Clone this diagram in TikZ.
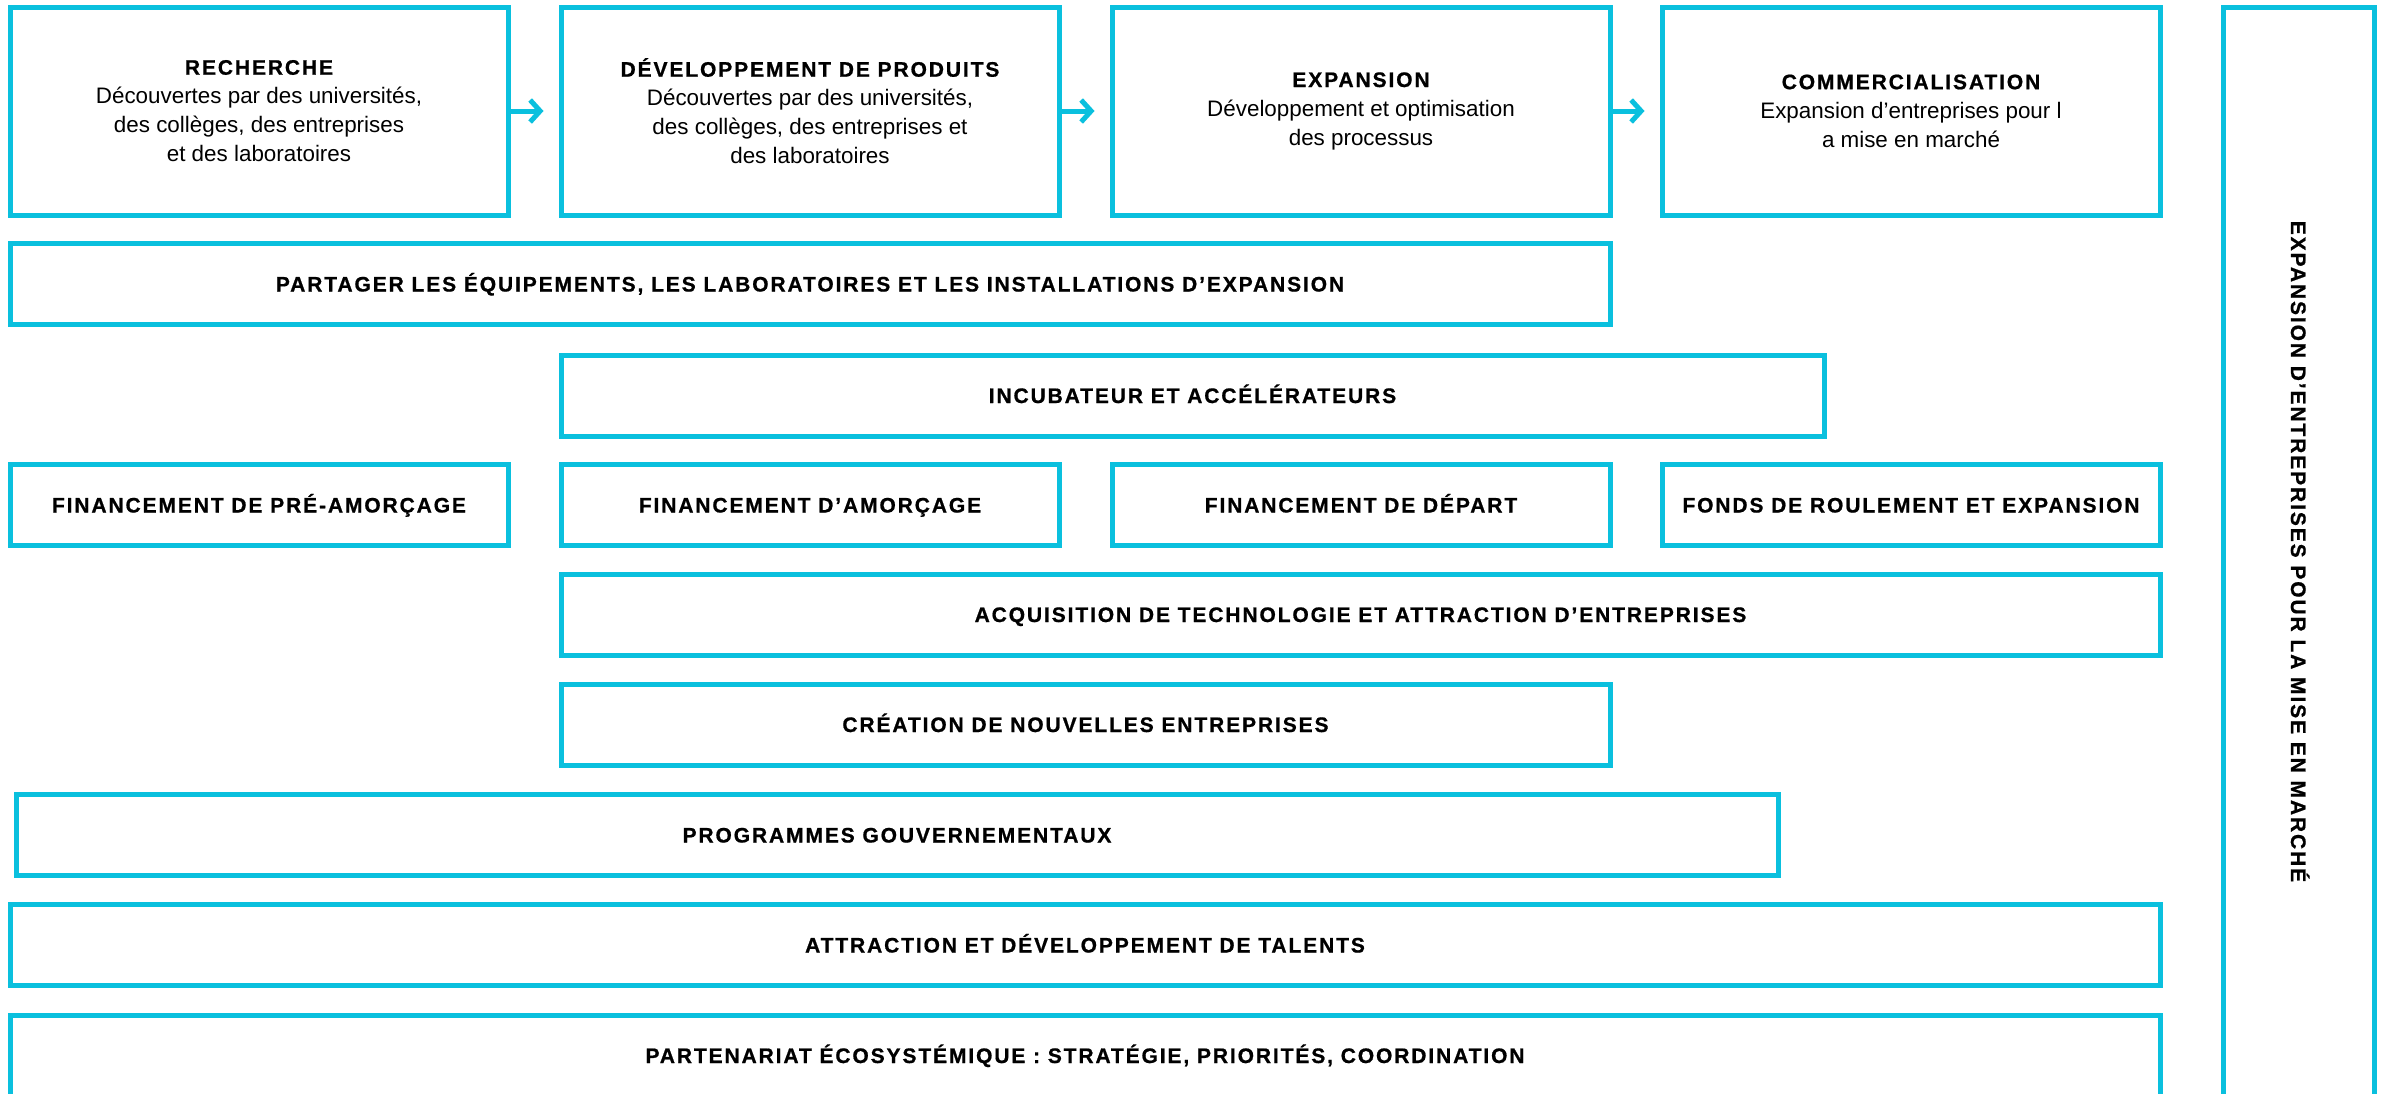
\documentclass[tikz,border=0pt]{standalone}
\usepackage{fontspec}
\setmainfont{Liberation Sans}
\newfontfamily\headfont{Liberation Sans}[LetterSpace=9,FakeBold=0.8]
\usetikzlibrary{arrows.meta}
\definecolor{skyline}{RGB}{10,192,222}
\newcommand\stagetitle[1]{{\headfont\bfseries\fontsize{10.5}{14.5}\selectfont #1}}

\begin{document}
\begin{tikzpicture}[x=0.5pt,y=-0.5pt,
    box/.style={draw=skyline, line width=2.5pt, inner sep=0pt,
      font=\headfont\bfseries\fontsize{10.5}{13}\selectfont},
    stagebox/.style={box, align=center, minimum width=249pt, minimum height=104pt,
      font=\fontsize{11.2}{14.5}\selectfont},
    rowbox/.style={box, minimum height=40.5pt, text height=7.5pt, text depth=0pt},
    flow/.style={draw=skyline, line width=2.5pt, shorten >=7.5pt,
      -{Straight Barb[length=5pt,width=11pt]}}]
    \useasboundingbox (0,0) rectangle (2389,1093);
    \clip (0,0) rectangle (2389,1093);

    % stages
    \node[stagebox] (recherche) at (259,111)
        {\stagetitle{RECHERCHE}\\ Découvertes par des universités,\\ des collèges, des entreprises\\ et des laboratoires};
    \node[stagebox] (produits) at (810,111)
        {\stagetitle{DÉVELOPPEMENT DE PRODUITS}\\ Découvertes par des universités,\\ des collèges, des entreprises et\\ des laboratoires};
    \node[stagebox] (expansion) at (1361,111)
        {\stagetitle{EXPANSION}\\ Développement et optimisation\\ des processus};
    \node[stagebox] (commerce) at (1911,111)
        {\stagetitle{COMMERCIALISATION}\\ Expansion d’entreprises pour l\\ a mise en marché};
    \draw[flow] (recherche) -- (produits);
    \draw[flow] (produits) -- (expansion);
    \draw[flow] (expansion) -- (commerce);

    % rows
    \node[rowbox, minimum width=800pt] (partage) at (810,284)
        {PARTAGER LES ÉQUIPEMENTS, LES LABORATOIRES ET LES INSTALLATIONS D’EXPANSION};
    \node[rowbox, minimum width=631.5pt] (incubateur) at (1192.5,395.5)
        {INCUBATEUR ET ACCÉLÉRATEURS};
    \node[rowbox, minimum width=249pt] (preamorcage) at (259,505) {FINANCEMENT DE PRÉ-AMORÇAGE};
    \node[rowbox, minimum width=249pt] (amorcage) at (810,505) {FINANCEMENT D’AMORÇAGE};
    \node[rowbox, minimum width=249pt] (depart) at (1361,505) {FINANCEMENT DE DÉPART};
    \node[rowbox, minimum width=249pt] (roulement) at (1911,505) {FONDS DE ROULEMENT ET EXPANSION};
    \node[rowbox, minimum width=799.5pt] (acquisition) at (1360.5,614.5)
        {ACQUISITION DE TECHNOLOGIE ET ATTRACTION D’ENTREPRISES};
    \node[rowbox, minimum width=524.5pt] (creation) at (1085.5,724.5)
        {CRÉATION DE NOUVELLES ENTREPRISES};
    \node[rowbox, minimum width=881pt] (programmes) at (897,835)
        {PROGRAMMES GOUVERNEMENTAUX};
    \node[rowbox, minimum width=1075pt] (talents) at (1085,945)
        {ATTRACTION ET DÉVELOPPEMENT DE TALENTS};
    \node[rowbox, minimum width=1075pt] (partenariat) at (1085,1055.5)
        {PARTENARIAT ÉCOSYSTÉMIQUE : STRATÉGIE, PRIORITÉS, COORDINATION};

    % side column
    \node[rowbox, rotate=-90, minimum width=544.5pt, minimum height=75.5pt] (marche) at (2298.5,551.5)
        {EXPANSION D’ENTREPRISES POUR LA MISE EN MARCHÉ};
\end{tikzpicture}
\end{document}
